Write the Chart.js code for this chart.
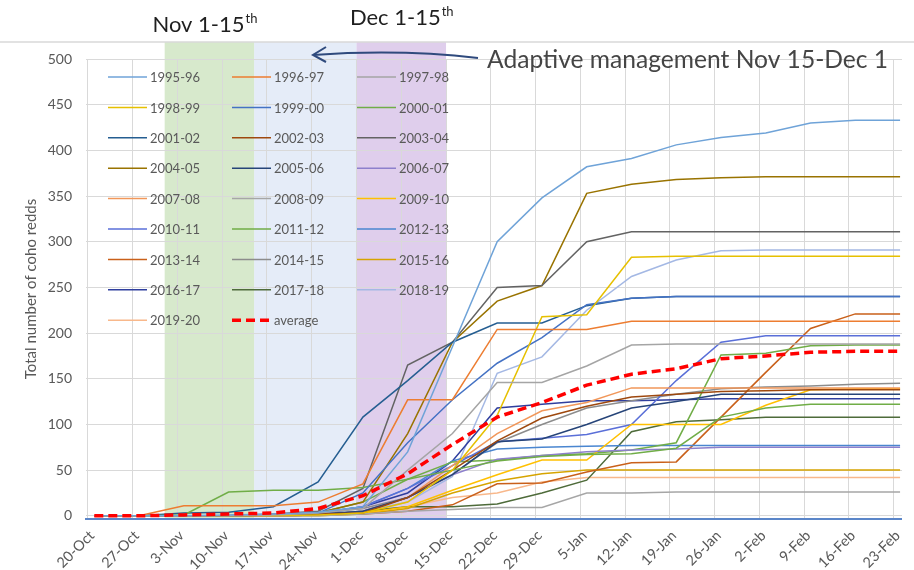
<!DOCTYPE html>
<html><head><meta charset="utf-8">
<script src="https://cdn.jsdelivr.net/npm/chart.js@4.4.1/dist/chart.umd.min.js"></script>
<style>html,body{margin:0;padding:0;background:#fff}#wrap{width:914px;height:570px;position:relative}</style>
</head><body><div id="wrap"><canvas id="c" width="914" height="570"></canvas></div>
<script>
// ---- data ----
const tickLabels = ['20-Oct','27-Oct','3-Nov','10-Nov','17-Nov','24-Nov','1-Dec','8-Dec','15-Dec','22-Dec','29-Dec','5-Jan','12-Jan','19-Jan','26-Jan','2-Feb','9-Feb','16-Feb','23-Feb'];
const tickDays = [0,7,14,21,28,35,42,49,56,63,70,77,84,91,98,105,112,119,126]; // days after 20-Oct
const surveyDays = [1,8,15,22,29,36,43,50,57,64,71,78,85,92,99,106,113,120,127];
const yTicks = [0,50,100,150,200,250,300,350,400,450,500];

const seasons = ['1995-96','1996-97','1997-98','1998-99','1999-00','2000-01','2001-02','2002-03','2003-04','2004-05','2005-06','2006-07','2007-08','2008-09','2009-10','2010-11','2011-12','2012-13','2013-14','2014-15','2015-16','2016-17','2017-18','2018-19','2019-20'];
const s1995 = [0,0,0,1,2,4,10,70,185,300,348,382,391,406,414,419,430,433,433];
const s1996 = [0,0,11,11,11,15,35,127,127,204,204,204,213,213,213,213,213,213,213];
const s1997 = [0,0,0,0,1,3,8,50,90,146,146,164,187,188,188,188,188,188,188];
const s1998 = [0,0,0,0,0,1,3,15,50,110,218,220,283,284,284,284,284,284,284];
const s1999 = [0,0,0,0,1,3,25,80,127,167,195,231,238,240,240,240,240,240,240];
const s2000 = [0,0,1,26,28,28,31,40,50,60,65,67,68,74,108,118,122,122,122];
const s2001 = [0,0,3,4,10,37,108,148,190,211,211,230,238,240,240,240,240,240,240];
const s2002 = [0,0,0,0,1,2,3,20,50,82,107,120,130,133,136,137,138,138,138];
const s2003 = [0,0,0,0,2,5,30,165,190,250,252,300,311,311,311,311,311,311,311];
const s2004 = [0,0,0,0,1,3,15,90,190,235,252,353,363,368,370,371,371,371,371];
const s2005 = [0,0,0,0,1,2,5,20,45,81,84,100,118,125,133,133,133,133,133];
const s2006 = [0,0,0,0,0,1,5,20,45,62,66,70,72,73,75,75,75,75,75];
const s2007 = [0,0,0,0,0,1,5,20,55,90,115,124,140,140,140,140,140,140,140];
const s2008 = [0,0,0,0,0,0,2,5,7,9,9,25,25,26,26,26,26,26,26];
const s2009 = [0,0,0,0,0,1,3,10,28,45,61,61,100,100,100,121,138,139,139];
const s2010 = [0,0,0,0,0,1,10,30,55,81,85,89,100,148,190,197,197,197,197];
const s2011 = [0,0,0,0,1,3,15,40,59,61,66,68,72,80,176,178,186,187,187];
const s2012 = [0,0,0,0,1,3,10,30,60,73,75,76,77,77,77,77,77,77,77];
const s2013 = [0,0,0,0,0,1,2,5,12,35,36,48,58,59,108,157,205,221,221];
const s2014 = [0,0,0,0,1,3,8,20,45,80,100,118,126,133,139,141,142,144,145];
const s2015 = [0,0,0,0,0,0,2,8,25,38,46,50,50,50,50,50,50,50,50];
const s2016 = [0,0,0,0,1,3,10,25,60,118,122,126,126,127,128,128,128,128,128];
const s2017 = [0,0,0,0,0,1,5,10,10,13,25,39,92,103,105,108,108,108,108];
const s2018 = [0,0,0,0,0,1,5,15,43,156,174,225,262,280,290,291,291,291,291];
const s2019 = [0,0,0,0,0,1,3,10,20,25,37,42,42,42,42,42,42,42,42];
const average = [0,0,1,2,3,8,22,46,78,108,124,143,155,161,172,175,179,180,180];
const seasonValues = [s1995,s1996,s1997,s1998,s1999,s2000,s2001,s2002,s2003,s2004,s2005,s2006,s2007,s2008,s2009,s2010,s2011,s2012,s2013,s2014,s2015,s2016,s2017,s2018,s2019];
const seasonColors = ['#6fa3d8','#ED7D31','#A5A5A5','#E6C000','#4472C4','#70AD47','#255E91','#9E480E','#636363','#997300','#264478','#8d80cc','#F1975A','#a6a6a6','#FFC000','#5a6fd8','#70AD47','#4a86d0','#C9601A','#8c8c8c','#D6A400','#2F3E9E','#4E6B3A','#A4B8E4','#F8B88B'];

// shaded periods (days after 20-Oct)
const bandStart = [12,26,42];
const bandEnd   = [26,42,56];
const bandColors = ['rgba(200,224,184,0.72)','rgba(218,228,245,0.7)','rgba(212,190,229,0.75)'];

// ---- chart ----
Chart.defaults.font.family = 'Lato, "Open Sans", sans-serif';
const datasets = seasons.map((s,i)=>({
  label:s, data:surveyDays.map((d,j)=>({x:d,y:seasonValues[i][j]})),
  borderColor:seasonColors[i], borderWidth:1.5, pointRadius:0, fill:false, tension:0, order:1
}));
datasets.push({label:'average', data:surveyDays.map((d,j)=>({x:d,y:average[j]})),
  borderColor:'#FF0000', borderWidth:3.5, borderDash:[9,5], pointRadius:0, fill:false, tension:0, order:0});

const TOPLINE = 42;
const bandsPlugin = {
  id:'bands',
  beforeDraw(chart){
    const {ctx, chartArea, scales:{x}} = chart;
    ctx.save();
    ctx.fillStyle='#fff'; ctx.fillRect(0,0,chart.width,chart.height);
    for(let i=0;i<bandStart.length;i++){
      const a=x.getPixelForValue(bandStart[i]), b=x.getPixelForValue(bandEnd[i]);
      ctx.fillStyle=bandColors[i];
      ctx.fillRect(a,TOPLINE,b-a,chartArea.bottom-TOPLINE);
    }
    ctx.strokeStyle='#d9d9d9'; ctx.lineWidth=1.5;
    ctx.beginPath(); ctx.moveTo(0,TOPLINE); ctx.lineTo(chart.width,TOPLINE); ctx.stroke();
    ctx.restore();
  }
};
const legendPlugin = {
  id:'gridLegend',
  afterDatasetsDraw(chart){
    const {ctx, chartArea} = chart;
    const colX=[22,146,271], lineLen=39, rowH=30.4, top=18;
    ctx.save();
    ctx.font='13px Lato, "Open Sans", sans-serif';
    ctx.textBaseline='middle'; ctx.textAlign='left';
    chart.data.datasets.forEach((ds,i)=>{
      const c=i%3, r=Math.floor(i/3);
      const x0=chartArea.left+colX[c], y0=chartArea.top+top+r*rowH;
      ctx.strokeStyle=ds.borderColor; ctx.lineWidth=ds.borderWidth;
      ctx.setLineDash(ds.borderDash||[]);
      ctx.beginPath(); ctx.moveTo(x0,y0); ctx.lineTo(x0+lineLen,y0); ctx.stroke();
      ctx.setLineDash([]);
      ctx.fillStyle='#595959';
      ctx.fillText(ds.label,x0+lineLen+3,y0+1);
    });
    ctx.restore();
  }
};
const notesPlugin = {
  id:'notes',
  afterDraw(chart){
    const {ctx, scales:{x}} = chart;
    ctx.save();
    function supText(main,sup,cx,base){
      ctx.font='22px Lato, "Open Sans", sans-serif';
      const w1=ctx.measureText(main).width;
      ctx.font='13px Lato, "Open Sans", sans-serif';
      const w2=ctx.measureText(sup).width;
      const x0=cx-(w1+w2)/2;
      ctx.fillStyle='#1f1f1f'; ctx.textBaseline='alphabetic'; ctx.textAlign='left';
      ctx.font='22px Lato, "Open Sans", sans-serif';
      ctx.fillText(main,x0,base);
      ctx.font='13px Lato, "Open Sans", sans-serif';
      ctx.fillText(sup,x0+w1+1,base-9);
    }
    const c0=(x.getPixelForValue(bandStart[0])+x.getPixelForValue(bandEnd[0]))/2;
    const c2=(x.getPixelForValue(bandStart[2])+x.getPixelForValue(bandEnd[2]))/2;
    supText('Nov 1-15','th',c0-5,32);
    supText('Dec 1-15','th',c2,25);
    // arrow
    ctx.strokeStyle='#2f4a7d'; ctx.lineWidth=2;
    ctx.beginPath(); ctx.moveTo(478,58); ctx.quadraticCurveTo(400,49,313,55); ctx.stroke();
    ctx.beginPath(); ctx.moveTo(326,47); ctx.lineTo(313,55); ctx.lineTo(326,62); ctx.stroke();
    ctx.fillStyle='#454545'; ctx.font='24.6px Lato, "Open Sans", sans-serif';
    ctx.textAlign='left'; ctx.textBaseline='alphabetic';
    ctx.fillText('Adaptive management Nov 15-Dec 1',487,68);
    ctx.restore();
  }
};

new Chart(document.getElementById('c'),{
  type:'line',
  data:{datasets},
  plugins:[bandsPlugin,legendPlugin,notesPlugin],
  options:{
    responsive:false, animation:false,
    layout:{padding:{top:59,right:2,left:0,bottom:0}},
    plugins:{legend:{display:false},tooltip:{enabled:false}},
    scales:{
      x:{type:'linear',min:-0.3,max:127.3,
        afterBuildTicks:s=>{s.ticks=tickDays.map(v=>({value:v}));},
        afterFit:s=>{s.height=51;},
        ticks:{autoSkip:false,minRotation:45,maxRotation:45,color:'#595959',font:{size:14.5},padding:8,labelOffset:4,
          callback:v=>{const i=tickDays.indexOf(v);return i>=0?tickLabels[i]:null;}},
        grid:{color:'#d9d9d9',drawTicks:false,lineWidth:1},
        border:{display:true,color:'#5b86c9',width:2}},
      y:{min:-3.5,max:500,
        afterBuildTicks:s=>{s.ticks=yTicks.map(v=>({value:v}));},
        afterFit:s=>{s.width=86;},
        ticks:{color:'#595959',font:{size:14},padding:14},
        grid:{color:'#d9d9d9',drawTicks:false,lineWidth:1},
        border:{display:false},
        title:{display:true,text:'Total number of coho redds',color:'#595959',font:{size:15},padding:{top:22,bottom:0}}}
    }
  }
});
</script></body></html>
